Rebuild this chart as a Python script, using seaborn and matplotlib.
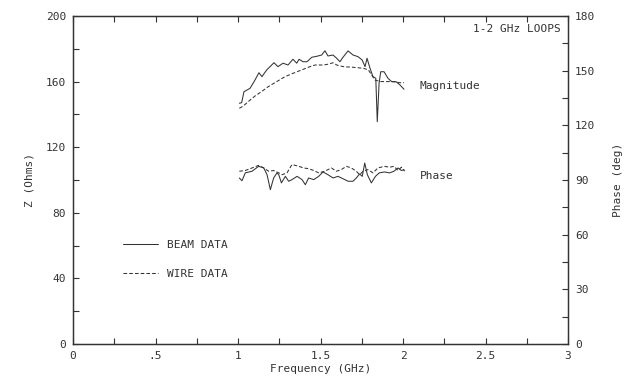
import numpy as np
import pandas as pd
import matplotlib
matplotlib.use("Agg")
import matplotlib.pyplot as plt
import seaborn as sns
from matplotlib.lines import Line2D
from matplotlib.ticker import MultipleLocator, FixedLocator, FixedFormatter

# ---------------- data ----------------
beam_mag_f = [1.008, 1.022, 1.036, 1.073, 1.097, 1.127, 1.145, 1.174, 1.218, 1.242,
              1.273, 1.303, 1.333, 1.356, 1.370, 1.394, 1.418, 1.447, 1.485, 1.507,
              1.527, 1.545, 1.576, 1.598, 1.618, 1.636, 1.667, 1.697, 1.727, 1.752,
              1.770, 1.782, 1.800, 1.818, 1.835, 1.844, 1.855, 1.865, 1.885, 1.909,
              1.932, 1.958, 1.982, 2.006]
beam_mag = [146.8, 147.1, 153.8, 155.9, 159.9, 165.4, 163.0, 167.1, 171.5, 169.1,
            171.2, 170.1, 173.6, 171.2, 173.6, 172.1, 172.1, 174.8, 175.6, 176.2,
            178.8, 175.6, 176.2, 174.2, 172.1, 174.8, 178.7, 176.2, 175.2, 173.2,
            169.1, 174.2, 168.1, 163.0, 162.0, 135.5, 159.0, 166.0, 166.0, 162.0,
            159.9, 159.9, 157.9, 155.3]

wire_mag_f = [1.008, 1.032, 1.062, 1.103, 1.143, 1.183, 1.235, 1.285, 1.335, 1.386,
              1.436, 1.467, 1.517, 1.547, 1.577, 1.598, 1.638, 1.699, 1.760, 1.790,
              1.810, 1.830, 1.861, 1.901, 1.941, 1.982, 2.006]
wire_mag = [143.7, 145.1, 147.8, 151.2, 153.9, 156.9, 160.0, 163.0, 165.1, 167.1,
            169.1, 170.1, 170.1, 170.6, 171.5, 170.1, 169.1, 168.7, 168.1, 167.1,
            164.0, 161.0, 160.0, 160.0, 160.0, 159.3, 159.3]

beam_ph_f = [1.008, 1.024, 1.044, 1.085, 1.125, 1.156, 1.176, 1.196, 1.216, 1.236,
             1.247, 1.263, 1.287, 1.307, 1.327, 1.358, 1.388, 1.408, 1.428, 1.459,
             1.489, 1.515, 1.545, 1.576, 1.606, 1.636, 1.667, 1.697, 1.717, 1.737,
             1.753, 1.768, 1.784, 1.808, 1.833, 1.856, 1.887, 1.919, 1.945, 1.970,
             1.990, 2.006]
beam_ph = [91.1, 89.6, 93.9, 94.8, 97.5, 96.6, 92.9, 84.7, 91.1, 93.9,
           92.9, 88.4, 92.0, 89.3, 90.2, 92.0, 90.2, 87.4, 91.1, 90.2,
           92.0, 94.4, 92.9, 91.1, 92.0, 90.7, 89.3, 89.3, 91.1, 93.3,
           92.0, 99.3, 92.9, 88.4, 92.0, 93.9, 94.4, 93.9, 94.8, 96.6,
           95.2, 95.7]

wire_ph_f = [1.008, 1.044, 1.085, 1.125, 1.156, 1.186, 1.216, 1.247, 1.267, 1.297,
             1.327, 1.368, 1.398, 1.428, 1.459, 1.489, 1.525, 1.566, 1.596, 1.626,
             1.657, 1.687, 1.717, 1.737, 1.758, 1.788, 1.818, 1.848, 1.887, 1.919,
             1.945, 1.970, 1.990, 2.010]
wire_ph = [94.8, 95.2, 96.6, 98.0, 96.6, 94.8, 95.2, 93.9, 92.9, 93.9,
           98.5, 97.5, 96.6, 96.2, 95.2, 93.9, 94.8, 96.6, 94.8, 95.7,
           97.5, 96.6, 94.8, 92.9, 94.8, 95.7, 93.9, 96.6, 97.5, 97.0,
           97.5, 95.2, 97.0, 94.8]

x_ticks = [0, 0.5, 1, 1.5, 2, 2.5, 3]
x_labels = ["0", ".5", "1", "1.5", "2", "2.5", "3"]
z_ticks = [0, 40, 80, 120, 160, 200]
ph_ticks = [0, 30, 60, 90, 120, 150, 180]

# ---------------- style ----------------
sns.set_theme(style="white")
plt.rcParams["font.family"] = ["DejaVu Sans Mono", "DejaVu Sans"]
ink = "#333333"
plt.rcParams["text.color"] = ink
plt.rcParams["axes.labelcolor"] = ink
plt.rcParams["xtick.color"] = ink
plt.rcParams["ytick.color"] = ink

fig = plt.figure(figsize=(6.3, 3.81), dpi=100)
ax = fig.add_axes([0.1159, 0.0971, 0.7857, 0.861])
ax2 = ax.twinx()

lw = 0.75
dash = (0, (3.5, 2))

sns.lineplot(x=beam_mag_f, y=beam_mag, ax=ax, color=ink, lw=lw, sort=False)
sns.lineplot(x=wire_mag_f, y=wire_mag, ax=ax, color=ink, lw=lw, linestyle=dash, sort=False)
sns.lineplot(x=beam_ph_f, y=beam_ph, ax=ax2, color=ink, lw=lw, sort=False)
sns.lineplot(x=wire_ph_f, y=wire_ph, ax=ax2, color=ink, lw=lw, linestyle=dash, sort=False)

ax.set_xlim(0, 3)
ax.set_ylim(0, 200)
ax2.set_ylim(0, 180)

ax.xaxis.set_major_locator(FixedLocator(x_ticks))
ax.xaxis.set_major_formatter(FixedFormatter(x_labels))
ax.xaxis.set_minor_locator(MultipleLocator(0.25))
ax.yaxis.set_major_locator(FixedLocator(z_ticks))
ax.yaxis.set_minor_locator(MultipleLocator(20))
ax2.yaxis.set_major_locator(FixedLocator(ph_ticks))
ax2.yaxis.set_minor_locator(MultipleLocator(15))

for a in (ax, ax2):
    for s in a.spines.values():
        s.set_color(ink)
        s.set_linewidth(0.9)

ax.tick_params(axis="x", which="both", direction="in", length=4, width=0.8,
               top=True, bottom=True, labelsize=8, pad=5)
ax.tick_params(axis="y", which="both", direction="in", length=4, width=0.8,
               left=True, right=False, labelsize=8, pad=5)
ax2.tick_params(axis="y", which="both", direction="in", length=4, width=0.8,
                right=True, left=False, labelsize=8, pad=5)

ax.set_xlabel("Frequency (GHz)", fontsize=8, labelpad=2)
ax.set_ylabel("Z (Ohms)", fontsize=8, labelpad=8)
ax2.set_ylabel("Phase (deg)", fontsize=8, labelpad=13)

ax.text(0.985, 0.975, "1-2 GHz LOOPS", transform=ax.transAxes, ha="right", va="top", fontsize=8)
ax.text(2.1, 157.5, "Magnitude", ha="left", va="center", fontsize=8)
ax2.text(2.1, 92, "Phase", ha="left", va="center", fontsize=8)

handles = [Line2D([], [], color=ink, lw=lw),
           Line2D([], [], color=ink, lw=lw, linestyle=dash)]
ax.legend(handles, ["BEAM DATA", "WIRE DATA"], loc="upper left",
          bbox_to_anchor=(0.08, 0.348), frameon=False, fontsize=8,
          handlelength=3.2, handletextpad=0.8, labelspacing=1.75)

fig.savefig("out.png", dpi=100, facecolor="white")
